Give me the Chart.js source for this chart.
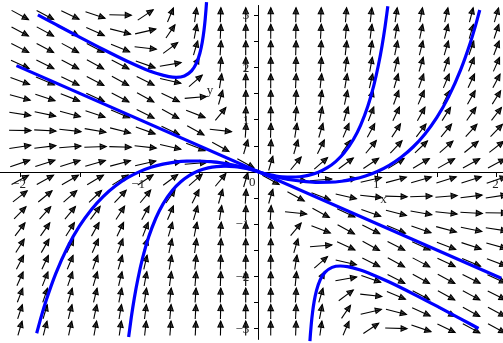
<!DOCTYPE html>
<html>
<head>
<meta charset="utf-8">
<script src="https://cdn.jsdelivr.net/npm/chart.js@4/dist/chart.umd.min.js"></script>
<style>
  html, body { margin: 0; padding: 0; background: #ffffff; }
  #wrap { width: 503px; height: 343px; }
  canvas { display: block; }
</style>
</head>
<body>
<div id="wrap"><canvas id="c" width="503" height="343"></canvas></div>
<script>
// Direction field and solution curves of  x^2 y' = x^2 + 3xy + y^2

// Arrow grid (20 x 20)
const gridX = [-2, -1.789, -1.579, -1.368, -1.158, -0.947, -0.737, -0.526, -0.316, -0.105,
               0.105, 0.316, 0.526, 0.737, 0.947, 1.158, 1.368, 1.579, 1.789, 2];
const gridY = [-3, -2.684, -2.368, -2.053, -1.737, -1.421, -1.105, -0.789, -0.474, -0.158,
               0.158, 0.474, 0.789, 1.105, 1.421, 1.737, 2.053, 2.368, 2.684, 3];

// dy/dx at (gridX[i], gridY[j]) stored as slopes[j][i]
const slopes = [
  [7.75, 8.84, 10.3, 12.4, 15.5, 20.5, 29.8, 50.6, 120, 899, 728, 62.8, 16.4, 5.36, 1.53, -0.06, -0.77, -1.09, -1.22, -1.25],
  [6.83, 7.75, 8.99, 10.7, 13.3, 17.5, 25.2, 42.3, 98.8, 728, 575, 47.8, 11.7, 3.34, 0.53, -0.58, -1.04, -1.21, -1.25, -1.23],
  [5.95, 6.72, 7.75, 9.19, 11.3, 14.8, 21.0, 34.8, 79.8, 575, 440, 34.8, 7.75, 1.69, -0.25, -0.95, -1.2, -1.25, -1.22, -1.15],
  [5.13, 5.76, 6.59, 7.75, 9.46, 12.2, 17.1, 27.9, 62.8, 440, 323, 23.8, 4.51, 0.4, -0.81, -1.18, -1.25, -1.21, -1.13, -1.03],
  [4.36, 4.85, 5.51, 6.42, 7.75, 9.86, 13.6, 21.8, 47.8, 323, 224, 14.8, 1.99, -0.52, -1.14, -1.25, -1.2, -1.09, -0.97, -0.85],
  [3.64, 4.01, 4.51, 5.19, 6.19, 7.75, 10.5, 16.4, 34.8, 224, 143, 7.75, 0.19, -1.07, -1.25, -1.18, -1.04, -0.89, -0.75, -0.63],
  [2.96, 3.23, 3.59, 4.08, 4.77, 5.86, 7.75, 11.7, 23.8, 143, 79.8, 2.75, -0.89, -1.25, -1.14, -0.95, -0.77, -0.61, -0.47, -0.35],
  [2.34, 2.52, 2.75, 3.06, 3.51, 4.19, 5.36, 7.75, 14.8, 79.8, 34.8, -0.25, -1.25, -1.07, -0.81, -0.58, -0.4, -0.25, -0.13, -0.03],
  [1.77, 1.86, 1.99, 2.16, 2.39, 2.75, 3.34, 4.51, 7.75, 34.8, 7.75, -1.25, -0.89, -0.52, -0.25, -0.06, 0.08, 0.19, 0.28, 0.35],
  [1.24, 1.27, 1.31, 1.36, 1.43, 1.53, 1.69, 1.99, 2.75, 7.75, -1.25, -0.25, 0.19, 0.4, 0.53, 0.61, 0.67, 0.71, 0.74, 0.77],
  [0.77, 0.74, 0.71, 0.67, 0.61, 0.53, 0.4, 0.19, -0.25, -1.25, 7.75, 2.75, 1.99, 1.69, 1.53, 1.43, 1.36, 1.31, 1.27, 1.24],
  [0.35, 0.28, 0.19, 0.08, -0.06, -0.25, -0.52, -0.89, -1.25, 7.75, 34.8, 7.75, 4.51, 3.34, 2.75, 2.39, 2.16, 1.99, 1.86, 1.77],
  [-0.03, -0.13, -0.25, -0.4, -0.58, -0.81, -1.07, -1.25, -0.25, 34.8, 79.8, 14.8, 7.75, 5.36, 4.19, 3.51, 3.06, 2.75, 2.52, 2.34],
  [-0.35, -0.47, -0.61, -0.77, -0.95, -1.14, -1.25, -0.89, 2.75, 79.8, 143, 23.8, 11.7, 7.75, 5.86, 4.77, 4.08, 3.59, 3.23, 2.96],
  [-0.63, -0.75, -0.89, -1.04, -1.18, -1.25, -1.07, 0.19, 7.75, 143, 224, 34.8, 16.4, 10.5, 7.75, 6.19, 5.19, 4.51, 4.01, 3.64],
  [-0.85, -0.97, -1.09, -1.2, -1.25, -1.14, -0.52, 1.99, 14.8, 224, 323, 47.8, 21.8, 13.6, 9.86, 7.75, 6.42, 5.51, 4.85, 4.36],
  [-1.03, -1.13, -1.21, -1.25, -1.18, -0.81, 0.4, 4.51, 23.8, 323, 440, 62.8, 27.9, 17.1, 12.2, 9.46, 7.75, 6.59, 5.76, 5.13],
  [-1.15, -1.22, -1.25, -1.2, -0.95, -0.25, 1.69, 7.75, 34.8, 440, 575, 79.8, 34.8, 21.0, 14.8, 11.3, 9.19, 7.75, 6.72, 5.95],
  [-1.23, -1.25, -1.21, -1.04, -0.58, 0.53, 3.34, 11.7, 47.8, 575, 728, 98.8, 42.3, 25.2, 17.5, 13.3, 10.7, 8.99, 7.75, 6.83],
  [-1.25, -1.22, -1.09, -0.77, -0.06, 1.53, 5.36, 16.4, 62.8, 728, 899, 120, 50.6, 29.8, 20.5, 15.5, 12.4, 10.3, 8.84, 7.75]
];

// Solution curves, [x, y] pairs
const lineSolution = [[-2.03, 2.03], [2.04, -2.04]];
const upperLeftBranch = [
  [-1.85, 3.003], [-1.7, 2.819], [-1.5, 2.576], [-1.3, 2.339], [-1.1, 2.114], [-0.95, 1.963],
  [-0.85, 1.878], [-0.75, 1.819], [-0.69, 1.807], [-0.62, 1.833], [-0.56, 1.929], [-0.52, 2.072],
  [-0.49, 2.267], [-0.47, 2.479], [-0.455, 2.713], [-0.445, 2.927], [-0.438, 3.117], [-0.434, 3.247]
];
const lowerRightBranch = [
  [0.434, -3.247], [0.438, -3.117], [0.445, -2.927], [0.455, -2.713], [0.47, -2.479], [0.49, -2.267],
  [0.52, -2.072], [0.56, -1.929], [0.62, -1.833], [0.69, -1.807], [0.75, -1.819], [0.85, -1.878],
  [0.95, -1.963], [1.1, -2.114], [1.3, -2.339], [1.5, -2.576], [1.7, -2.819], [1.85, -3.003]
];
const rightWide = [
  [0, 0], [0.02, -0.016], [0.05, -0.038], [0.1, -0.070], [0.2, -0.123], [0.3, -0.164], [0.4, -0.191],
  [0.5, -0.204], [0.6, -0.202], [0.7, -0.183], [0.8, -0.144], [0.9, -0.083], [1.0, 0.004], [1.1, 0.121],
  [1.2, 0.275], [1.3, 0.472], [1.4, 0.723], [1.5, 1.040], [1.6, 1.442], [1.7, 1.953], [1.78, 2.464],
  [1.82, 2.762], [1.86, 3.095]
];
const leftWide = [
  [-1.86, -3.095], [-1.82, -2.762], [-1.78, -2.464], [-1.7, -1.953], [-1.6, -1.442], [-1.5, -1.040],
  [-1.4, -0.723], [-1.3, -0.472], [-1.2, -0.275], [-1.1, -0.121], [-1.0, -0.004], [-0.9, 0.083],
  [-0.8, 0.144], [-0.7, 0.183], [-0.6, 0.202], [-0.5, 0.204], [-0.4, 0.191], [-0.3, 0.164],
  [-0.2, 0.123], [-0.1, 0.070], [-0.05, 0.038], [-0.02, 0.016], [0, 0]
];
const rightNarrow = [
  [0, 0], [0.02, -0.015], [0.05, -0.035], [0.1, -0.062], [0.15, -0.083], [0.2, -0.097], [0.28, -0.106],
  [0.35, -0.098], [0.42, -0.072], [0.5, -0.016], [0.58, 0.076], [0.65, 0.193], [0.72, 0.357],
  [0.8, 0.621], [0.86, 0.892], [0.92, 1.253], [0.97, 1.648], [1.01, 2.051], [1.04, 2.417],
  [1.065, 2.780], [1.088, 3.167]
];
const leftNarrow = [
  [-1.088, -3.167], [-1.065, -2.780], [-1.04, -2.417], [-1.01, -2.051], [-0.97, -1.648], [-0.92, -1.253],
  [-0.86, -0.892], [-0.8, -0.621], [-0.72, -0.357], [-0.65, -0.193], [-0.58, -0.076], [-0.5, 0.016],
  [-0.42, 0.072], [-0.35, 0.098], [-0.28, 0.106], [-0.2, 0.097], [-0.15, 0.083], [-0.1, 0.062],
  [-0.05, 0.035], [-0.02, 0.015], [0, 0]
];

// Axes
const xTicks = [-2, -1.5, -1, -0.5, 0.5, 1, 1.5, 2];
const yTicks = [-3, -2.5, -2, -1.5, -1, -0.5, 0.5, 1, 1.5, 2, 2.5, 3];
const xTickLabels = [[-2, '\u22122'], [-1, '\u22121'], [1, '1'], [2, '2']];
const yTickLabels = [[-3, '\u22123'], [-2, '\u22122'], [-1, '\u22121'], [1, '1'], [2, '2'], [3, '3']];
const yAxisSpan = [-3.22, 3.19];

const toXY = pts => pts.map(p => ({ x: p[0], y: p[1] }));

const fieldPlugin = {
  id: 'directionField',
  beforeDatasetsDraw(chart) {
    const { ctx, scales: { x, y } } = chart;
    const x0 = x.getPixelForValue(0), y0 = y.getPixelForValue(0);
    const sx = x.getPixelForValue(1) - x0;
    const sy = y0 - y.getPixelForValue(1);
    const spanX = gridX[gridX.length - 1] - gridX[0];
    const spanY = gridY[gridY.length - 1] - gridY[0];
    const frac = 0.046;
    ctx.save();
    ctx.strokeStyle = '#000';
    ctx.fillStyle = 'rgba(0,0,0,0.7)';
    ctx.lineWidth = 1.1;
    ctx.lineJoin = 'miter';
    for (let j = 0; j < gridY.length; j++) {
      for (let i = 0; i < gridX.length; i++) {
        const m = slopes[j][i];
        const k = frac / Math.sqrt(1 / (spanX * spanX) + (m * m) / (spanY * spanY));
        const vx = k * sx, vy = -k * sy * m;
        const cx = x.getPixelForValue(gridX[i]), cy = y.getPixelForValue(gridY[j]);
        const len = Math.hypot(vx, vy), ux = vx / len, uy = vy / len;
        const tx = cx - vx / 2, ty = cy - vy / 2;
        const hx = cx + vx / 2, hy = cy + vy / 2;
        ctx.beginPath(); ctx.moveTo(tx, ty); ctx.lineTo(hx, hy); ctx.stroke();
        const hl = 6, hw = 2.7;
        const bx = hx - ux * hl, by = hy - uy * hl;
        ctx.beginPath();
        ctx.moveTo(hx, hy);
        ctx.lineTo(bx - uy * hw, by + ux * hw);
        ctx.lineTo(bx + uy * hw, by - ux * hw);
        ctx.closePath();
        ctx.fill(); ctx.stroke();
      }
    }

    // axes through the origin
    ctx.strokeStyle = '#000';
    ctx.lineWidth = 1;
    ctx.beginPath();
    ctx.moveTo(chart.chartArea.left, Math.round(y0) + 0.5);
    ctx.lineTo(chart.chartArea.right, Math.round(y0) + 0.5);
    ctx.moveTo(Math.round(x0) + 0.5, y.getPixelForValue(yAxisSpan[1]));
    ctx.lineTo(Math.round(x0) + 0.5, y.getPixelForValue(yAxisSpan[0]));
    ctx.stroke();
    ctx.beginPath();
    xTicks.forEach(v => {
      const px = Math.round(x.getPixelForValue(v)) + 0.5;
      ctx.moveTo(px, Math.round(y0)); ctx.lineTo(px, Math.round(y0) + 5);
    });
    yTicks.forEach(v => {
      const py = Math.round(y.getPixelForValue(v)) + 0.5;
      ctx.moveTo(Math.round(x0) - 4, py); ctx.lineTo(Math.round(x0) + 1, py);
    });
    ctx.stroke();

    ctx.fillStyle = '#222';
    ctx.font = '13px "Liberation Serif", "DejaVu Serif", serif';
    ctx.textAlign = 'center';
    ctx.textBaseline = 'alphabetic';
    xTickLabels.forEach(([v, s]) => {
      ctx.fillText(s, x.getPixelForValue(v) - 1, y0 + 16);
    });
    ctx.fillText('0', x0 - 6, y0 + 14);
    ctx.textAlign = 'right';
    ctx.textBaseline = 'middle';
    yTickLabels.forEach(([v, s]) => {
      ctx.fillText(s, x0 - 9, y.getPixelForValue(v) + 1);
    });
    ctx.textAlign = 'center';
    ctx.fillText('y', x.getPixelForValue(-0.405), y.getPixelForValue(1.55));
    ctx.fillText('x', x.getPixelForValue(1.052), y.getPixelForValue(-0.54));
    ctx.restore();
  }
};

const curveStyle = {
  showLine: true,
  borderColor: '#0000ff',
  borderWidth: 3.2,
  pointRadius: 0,
  fill: false,
  cubicInterpolationMode: 'monotone'
};

new Chart(document.getElementById('c'), {
  type: 'scatter',
  data: {
    datasets: [
      { ...curveStyle, data: toXY(lineSolution) },
      { ...curveStyle, data: toXY(upperLeftBranch) },
      { ...curveStyle, data: toXY(lowerRightBranch) },
      { ...curveStyle, data: toXY(rightWide) },
      { ...curveStyle, data: toXY(leftWide) },
      { ...curveStyle, data: toXY(rightNarrow) },
      { ...curveStyle, data: toXY(leftNarrow) }
    ]
  },
  options: {
    responsive: false,
    animation: false,
    devicePixelRatio: 1,
    layout: { padding: 0 },
    plugins: { legend: { display: false }, tooltip: { enabled: false } },
    scales: {
      x: { type: 'linear', min: -2.168, max: 2.055, display: false },
      y: { type: 'linear', min: -3.281, max: 3.287, display: false }
    }
  },
  plugins: [fieldPlugin]
});
</script>
</body>
</html>
